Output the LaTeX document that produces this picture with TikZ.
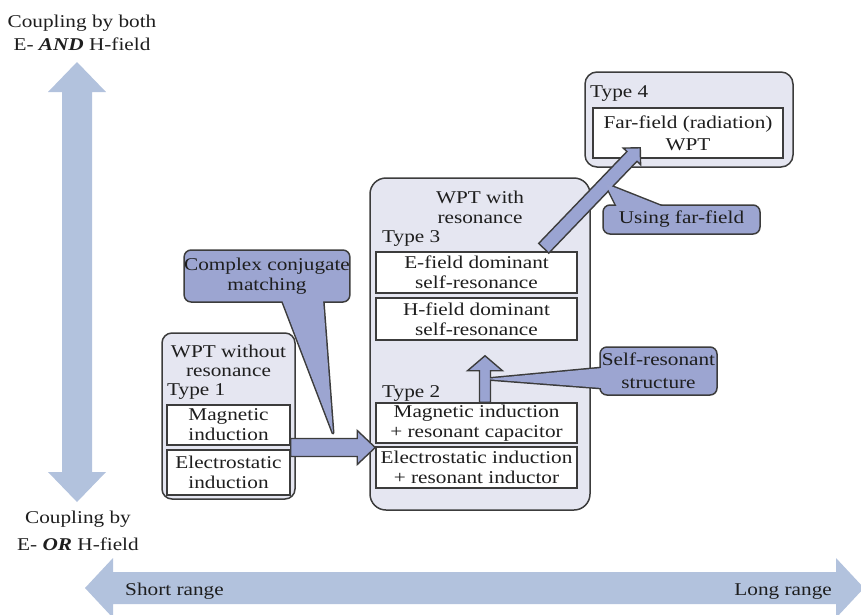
\documentclass[tikz,border=0pt]{standalone}
\usepackage{fontspec}
\setmainfont{Liberation Serif}[FakeStretch=1.18]
\usetikzlibrary{calc}
\pgfdeclarelayer{panels}
\pgfdeclarelayer{wedges}
\pgfsetlayers{panels,wedges,main}

\definecolor{inkc}{HTML}{1E1E1E}
\definecolor{edgec}{HTML}{3C3C3C}
\definecolor{panelc}{HTML}{E5E6F1}
\definecolor{calloutc}{HTML}{9CA5D1}
\definecolor{blockc}{HTML}{9AA4D2}
\definecolor{axisc}{HTML}{B2C2DD}

\newcommand\diagfont{\fontsize{18}{20}\selectfont}

% block arrow: style, tail, tip, shaft half width, head half width, head length
\newcommand\blockarrow[6]{%
  \coordinate (ba-h) at ($(#3)!#6!(#2)$);
  \path[#1] ($(#2)!#4!90:(#3)$) -- ($(ba-h)!#4!90:(#3)$) -- ($(ba-h)!#5!90:(#3)$) -- (#3)
    -- ($(ba-h)!#5!-90:(#3)$) -- ($(ba-h)!#4!-90:(#3)$) -- ($(#2)!#4!-90:(#3)$) -- cycle;}

% arrow with a head at both ends
\newcommand\twowayarrow[6]{%
  \coordinate (tw-ha) at ($(#2)!#6!(#3)$);
  \coordinate (tw-hb) at ($(#3)!#6!(#2)$);
  \path[#1] (#2) -- ($(tw-ha)!#5!90:(#3)$) -- ($(tw-ha)!#4!90:(#3)$) -- ($(tw-hb)!#4!90:(#3)$)
    -- ($(tw-hb)!#5!90:(#3)$) -- (#3) -- ($(tw-hb)!#5!-90:(#3)$) -- ($(tw-hb)!#4!-90:(#3)$)
    -- ($(tw-ha)!#4!-90:(#3)$) -- ($(tw-ha)!#5!-90:(#3)$) -- cycle;}

% pointer of a callout: two base points inside the box, then the tip
\newcommand\calloutwedge[3]{%
  \begin{pgfonlayer}{wedges}\draw[wedgeedge] (#1) -- (#3) -- (#2);\end{pgfonlayer}
  \fill[calloutc] (#1) -- (#3) -- (#2) -- cycle;}

\begin{document}
\begin{tikzpicture}[x=1pt,y=-1pt,font=\diagfont,text=inkc,
  panel/.style={draw=edgec,line width=1.5pt,fill=panelc,rounded corners=10pt,inner sep=0pt},
  cell/.style={draw=edgec,line width=1.5pt,fill=white,inner sep=0pt,align=center},
  callout/.style={draw=edgec,line width=1.5pt,fill=calloutc,rounded corners=7pt,inner sep=0pt,align=center},
  caption/.style={inner sep=0pt,align=center},
  blockarrowstyle/.style={draw=edgec,line width=1.4pt,fill=blockc,line join=miter},
  axisarrow/.style={fill=axisc},
  wedgeedge/.style={draw=edgec,line width=3pt,line join=round}]

\useasboundingbox (0,0) rectangle (861,614);

% coupling axis (vertical) and range axis (horizontal)
\coordinate (vlow) at (77,502);
\coordinate (vhigh) at (77,62);
\twowayarrow{axisarrow}{vlow}{vhigh}{15pt}{29pt}{30pt}
\coordinate (hleft) at (85,588);
\coordinate (hright) at (864,588);
\twowayarrow{axisarrow}{hleft}{hright}{16pt}{30pt}{28pt}

\node[caption,anchor=north,font={\fontsize{18}{23}\selectfont}] (both) at (82,14.6)
  {Coupling by both\\E- \textbf{\textit{AND}} H-field};
\node[caption,anchor=north,font={\fontsize{18}{27}\selectfont}] (either) at (78,510.6)
  {Coupling by\\E- \textbf{\textit{OR}} H-field};
\node[caption,anchor=base west] (short) at (125,595) {Short range};
\node[caption,anchor=base east] (long) at (832,595) {Long range};

% group panels
\begin{pgfonlayer}{panels}
\node[panel,minimum width=133pt,minimum height=166pt] (p1) at (228.5,416) {};
\node[panel,rounded corners=16pt,minimum width=220pt,minimum height=332pt] (p2) at (480,344) {};
\node[panel,rounded corners=12pt,minimum width=208pt,minimum height=95pt] (p4) at (689,119.5) {};
\end{pgfonlayer}

\node[caption,anchor=north,font={\fontsize{18}{19}\selectfont}] (t1) at (228.5,344.6) {WPT without\\resonance};
\node[caption,anchor=base west] (ty1) at (167,395) {Type 1};
\node[caption,anchor=north] (t2) at (480,190.6) {WPT with\\resonance};
\node[caption,anchor=base west] (ty3) at (382,242) {Type 3};
\node[caption,anchor=base west] (ty2) at (382,397) {Type 2};
\node[caption,anchor=base west] (ty4) at (590,97) {Type 4};

% technology cells
\node[cell,minimum width=123pt,minimum height=40pt] (mag1) at (228.5,425) {Magnetic\\induction};
\node[cell,minimum width=123pt,minimum height=45pt] (elec1) at (228.5,472.5) {Electrostatic\\induction};
\node[cell,minimum width=201pt,minimum height=41pt] (ef) at (476.5,272.5) {E-field dominant\\self-resonance};
\node[cell,minimum width=201pt,minimum height=42pt] (hf) at (476.5,319) {H-field dominant\\self-resonance};
\node[cell,minimum width=201pt,minimum height=40pt] (mag2) at (476.5,423) {Magnetic induction\\+ resonant capacitor};
\node[cell,minimum width=201pt,minimum height=41pt] (elec2) at (476.5,467.5) {Electrostatic induction\\+ resonant inductor};
\node[cell,minimum width=190pt,minimum height=50pt,font={\fontsize{18}{22}\selectfont}] (ff) at (688,133) {Far-field (radiation)\\WPT};

% transitions between types
\coordinate (a1s) at ($(mag1.south east)!0.5!(elec1.north east)$);
\coordinate (a1e) at (a1s -| mag2.west);
\blockarrow{blockarrowstyle}{a1s}{a1e}{9pt}{17pt}{18pt}

\coordinate (a2s) at ($(mag2.north)+(8.5,0)$);
\coordinate (a2e) at ($(hf.south)+(8.5,15)$);
\blockarrow{blockarrowstyle}{a2s}{a2e}{5.5pt}{17.5pt}{15pt}

\coordinate (a3s) at ($(ef.north east)+(-34,-3)$);
\coordinate (a3e) at ($(ff.south west)+(48,-11)$);
\blockarrow{blockarrowstyle}{a3s}{a3e}{7pt}{12pt}{12pt}

% callouts
\node[callout,minimum width=160pt,minimum height=52pt] (cc) at (267,276) {Complex conjugate\\matching};
\coordinate (cc-tip) at (333,433);
\calloutwedge{$(cc.south)+(15,-3)$}{$(cc.south)+(56,-3)$}{cc-tip}

\node[callout,minimum width=117pt,minimum height=48pt,font={\fontsize{18}{23}\selectfont}] (sr) at (658.5,371) {Self-resonant\\structure};
\coordinate (sr-tip) at ($(a2s)!0.5!(a2e)$);
\calloutwedge{$(sr.west)+(3,-3)$}{$(sr.west)+(3,17)$}{sr-tip}

\node[callout,minimum width=157pt,minimum height=29pt] (uf) at (681.5,219.5) {Using far-field};
\coordinate (uf-tip) at ($(a3s)!0.64!(a3e)$);
\calloutwedge{$(uf.north west)+(15,3)$}{$(uf.north west)+(62,3)$}{uf-tip}

\end{tikzpicture}
\end{document}
